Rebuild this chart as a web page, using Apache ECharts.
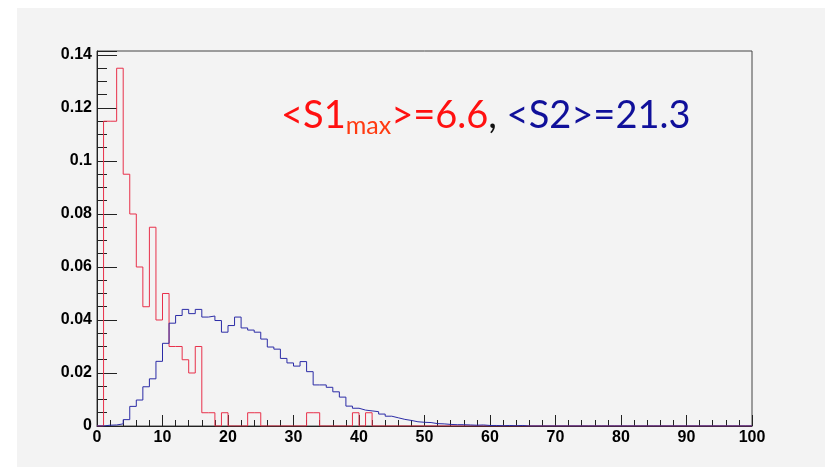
<!DOCTYPE html>
<html>
<head>
    <meta charset="utf-8">
    <title>S1max / S2</title>
    <script src="https://cdn.jsdelivr.net/npm/echarts@6/dist/echarts.min.js"></script>
    <style>
        html, body { margin: 0; padding: 0; background: #fff; }
        #main { width: 825px; height: 467px; }
    </style>
</head>
<body>
    <div id="main"></div>
    <script type="text/javascript">
        // 直方图，每个 bin 宽 1，从 0 开始；后面没写的 bin 都是 0
        var nBins = 100;
        var s1maxValues = [
            0, 0.115, 0.115, 0.135, 0.095, 0.08, 0.06, 0.045, 0.075, 0.04,
            0.05, 0.03, 0.03, 0.025, 0.02, 0.03, 0.005, 0.005, 0, 0.005,
            0, 0, 0, 0.005, 0.005, 0, 0, 0, 0, 0,
            0, 0, 0.005, 0.005, 0, 0, 0, 0, 0, 0.005,
            0, 0.005
        ];
        var s2Values = [
            0, 0.0003, 0.0004, 0.0008, 0.0024, 0.0074, 0.0098, 0.0148, 0.0178, 0.0244,
            0.0312, 0.0388, 0.0417, 0.044, 0.0424, 0.044, 0.0411, 0.0415, 0.0398, 0.0354,
            0.0379, 0.0411, 0.037, 0.0362, 0.0354, 0.0328, 0.0298, 0.029, 0.0255, 0.0238,
            0.0226, 0.0243, 0.0205, 0.0155, 0.0155, 0.0146, 0.0129, 0.0109, 0.0075, 0.0067,
            0.006, 0.0057, 0.0054, 0.0045, 0.0037, 0.0031, 0.0025, 0.0021, 0.0016, 0.0014,
            0.0013, 0.0009, 0.0008, 0.0006, 0.0005, 0.0005, 0.0004, 0.0003, 0.0004, 0.0002,
            0.0002, 0.0001, 0.0002, 0.0001, 0.0002
        ];
        var xTicks = { min: 0, max: 100, interval: 10 };
        var yTicks = { min: 0, max: 0.1415, interval: 0.02 };

        // bin 值 -> 阶梯线的点 [左边沿, 值]，最后补一个右边沿
        function histPoints(values) {
            var pts = [];
            for (var i = 0; i < nBins; i++) {
                pts.push([i, i < values.length ? values[i] : 0]);
            }
            pts.push([nBins, pts[nBins - 1][1]]);
            return pts;
        }

        var labelFont = { color: '#000', fontFamily: 'Liberation Sans', fontWeight: 'bold', fontSize: 16 };

        var myChart = echarts.init(document.getElementById('main'));
        var option = {
            animation: false,
            backgroundColor: '#fff',
            graphic: [
                {
                    type: 'rect', left: 17, top: 8, z: -10, silent: true,
                    shape: { width: 808, height: 459 },
                    style: { fill: '#f3f3f3' }
                },
                {
                    type: 'text', left: 281, top: 97, z: 10,
                    style: {
                        text: '{r|<S1}{s|max}{r|>=6.6}{k|, }{b|<S2>=21.3}',
                        rich: {
                            r: { fill: '#ff1010', fontFamily: 'Lato', fontSize: 38, lineHeight: 44, verticalAlign: 'middle' },
                            s: { fill: '#ff3a10', fontFamily: 'Lato', fontSize: 25, lineHeight: 20, verticalAlign: 'bottom' },
                            k: { fill: '#111', fontFamily: 'Lato', fontSize: 38, lineHeight: 44, verticalAlign: 'middle' },
                            b: { fill: '#10109a', fontFamily: 'Lato', fontSize: 38, lineHeight: 44, verticalAlign: 'middle' }
                        }
                    }
                }
            ],
            grid: {
                left: 97, right: 73, top: 51, bottom: 41,
                show: true, borderColor: '#444', borderWidth: 1, backgroundColor: 'transparent'
            },
            xAxis: {
                type: 'value',
                min: xTicks.min, max: xTicks.max, interval: xTicks.interval,
                axisLine: { lineStyle: { color: '#222', width: 1 } },
                axisTick: { inside: true, length: 11, lineStyle: { color: '#222' } },
                minorTick: { show: true, splitNumber: 5, length: 6, lineStyle: { color: '#222' } },
                splitLine: { show: false },
                axisLabel: Object.assign({ margin: 4 }, labelFont)
            },
            yAxis: {
                type: 'value',
                min: yTicks.min, max: yTicks.max, interval: yTicks.interval,
                axisLine: { show: true, lineStyle: { color: '#222', width: 1 } },
                axisTick: { show: true, inside: true, length: 20, lineStyle: { color: '#222' } },
                minorTick: { show: true, splitNumber: 4, length: 10, lineStyle: { color: '#222' } },
                splitLine: { show: false },
                axisLabel: Object.assign({ margin: 5, showMaxLabel: false }, labelFont)
            },
            series: [
                {
                    name: 'S1max', type: 'line', step: 'end', symbol: 'none',
                    data: histPoints(s1maxValues),
                    lineStyle: { color: '#e8304a', width: 1 }
                },
                {
                    name: 'S2', type: 'line', step: 'end', symbol: 'none',
                    data: histPoints(s2Values),
                    lineStyle: { color: '#2b2ba6', width: 1 }
                }
            ]
        };
        myChart.setOption(option);
    </script>
</body>
</html>
